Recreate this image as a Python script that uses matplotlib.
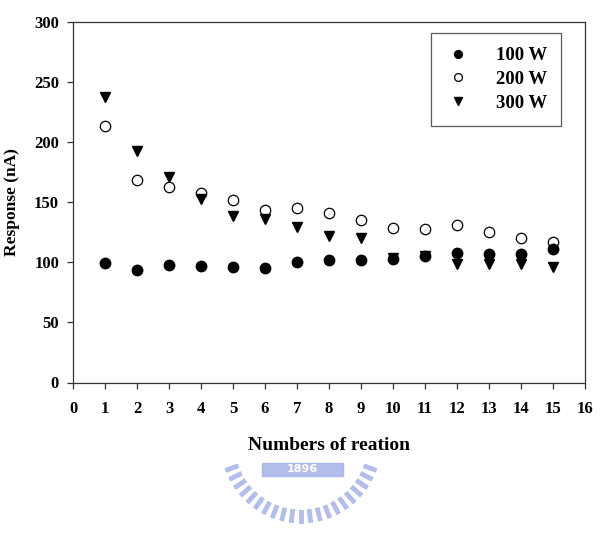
import numpy as np
import matplotlib
matplotlib.use("Agg")
import matplotlib.pyplot as plt
from matplotlib.patches import Rectangle

# ---- data ----
reactions = [1, 2, 3, 4, 5, 6, 7, 8, 9, 10, 11, 12, 13, 14, 15]
w100 = [99.5, 94, 97.5, 97, 96.5, 95.5, 100, 102, 102, 102.5, 105.5, 107.5, 107, 107, 111]
w200 = [214, 168.5, 163, 157.5, 152, 143.5, 145.5, 141, 135, 129, 127.5, 131, 125, 120.5, 117]
w300 = [238, 193, 171.5, 153, 139, 136, 129.5, 122, 120, 104, 105, 98.5, 98.5, 98.5, 96.5]
series_labels = ["100 W", "200 W", "300 W"]
xticks = list(range(0, 17))
yticks = [0, 50, 100, 150, 200, 250, 300]

W, H = 612, 542
fig = plt.figure(figsize=(W / 100, H / 100), dpi=100)
plt.rcParams['font.family'] = ['Liberation Serif', 'DejaVu Serif']

def fx(px):
    return px / W

def fy(py):
    return 1 - py / H

ax = fig.add_axes([fx(73), fy(382.5), fx(585) - fx(73), fy(22.3) - fy(382.5)])

ax.plot(reactions, w100, linestyle='none', marker='o', ms=7.5, mfc='black', mec='black',
        label=series_labels[0], zorder=3)
ax.plot(reactions, w200, linestyle='none', marker='o', ms=7.5, mfc='white', mec='black',
        mew=0.9, label=series_labels[1], zorder=2)
ax.plot(reactions, w300, linestyle='none', marker='v', ms=7.5, mfc='black', mec='black',
        label=series_labels[2], zorder=2)

ax.set_xlim(0, 16)
ax.set_ylim(0, 300)
ax.set_xticks(xticks)
ax.set_yticks(yticks)
ax.tick_params(axis='both', direction='out', length=4, width=0.9, color='#333333',
               labelsize=12)
ax.tick_params(axis='x', pad=9)
ax.tick_params(axis='y', pad=6)
for lab in ax.get_xticklabels() + ax.get_yticklabels():
    lab.set_fontweight('bold')
for s in ax.spines.values():
    s.set_linewidth(0.9)
    s.set_color('#333333')

ax.set_xlabel("Numbers of reation", fontsize=14, fontweight='bold', labelpad=15)
ax.set_ylabel("Response (nA)", fontsize=12.5, fontweight='bold', labelpad=10)

leg = ax.legend(loc='upper right', bbox_to_anchor=(0.953, 0.970), borderaxespad=0,
                frameon=True, fancybox=False, edgecolor='#333333', markerscale=0.75,
                prop={'family': 'Liberation Serif', 'weight': 'bold', 'size': 13.5},
                handlelength=1.4, handletextpad=1.3, labelspacing=0.35,
                borderpad=0.75)
leg.get_frame().set_linewidth(0.9)

# ---- faint watermark (institution logo) ----
wm = '#9aaae4'
cx, cy, r = 301, 443, 78
for ang in np.linspace(200, 340, 21):
    a = np.deg2rad(ang)
    x0 = cx + r * np.cos(a)
    y0 = cy - r * np.sin(a)
    x1 = cx + (r - 9) * np.cos(a)
    y1 = cy - (r - 9) * np.sin(a)
    fig.lines.append(plt.Line2D([fx(x0), fx(x1)], [fy(y0), fy(y1)], color=wm, lw=3.5,
                                alpha=0.75, transform=fig.transFigure))
fig.patches.append(Rectangle((fx(262), fy(476)), fx(343) - fx(262), fy(463) - fy(476),
                             transform=fig.transFigure, color=wm, alpha=0.75))
fig.text(fx(302), fy(469.5), "1896", color='white', fontsize=8, fontweight='bold',
         ha='center', va='center', family='DejaVu Sans')

fig.savefig("out.png", dpi=100)
